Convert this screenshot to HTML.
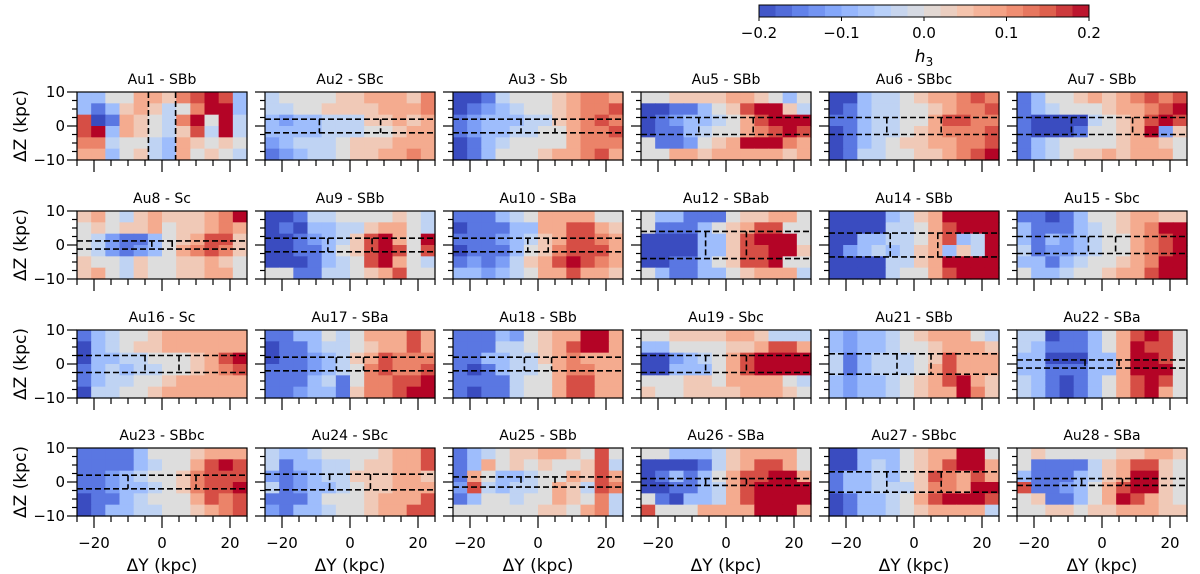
<!DOCTYPE html>
<html><head><meta charset="utf-8"><style>
html,body{margin:0;padding:0;background:#fff;}
svg{display:block;font-family:"DejaVu Sans","Liberation Sans",sans-serif;}
</style></head><body>
<svg id="fig" width="1200" height="574" viewBox="0 0 1200 574" xmlns="http://www.w3.org/2000/svg"></svg>
<script>
// ---- data ----
const panelNames = ["Au1 - SBb","Au2 - SBc","Au3 - Sb","Au5 - SBb","Au6 - SBbc","Au7 - SBb",
"Au8 - Sc","Au9 - SBb","Au10 - SBa","Au12 - SBab","Au14 - SBb","Au15 - Sbc",
"Au16 - Sc","Au17 - SBa","Au18 - SBb","Au19 - Sbc","Au21 - SBb","Au22 - SBa",
"Au23 - SBbc","Au24 - SBc","Au25 - SBb","Au26 - SBa","Au27 - SBbc","Au28 - SBa"];
// box half-height in z (kpc)
const boxZ = [10,2,2,2.5,2.5,2.5, 1.2,2,2,4,3.5,2.5, 2.5,2,2,2.5,3,1.2, 2,2.3,1.5,1,3,1];
// bar half-length in y (kpc)
const boxY = [4,9,5,8,8,9, 3,6.5,3,6,7,4, 5,4,4,6,5,5, 10,6,5,6,8,6];
// h3 grid codes: a=-0.2 ... f=0 ... k=+0.2 ; 6 rows (z top->bottom) x 12 cols (y left->right)
const grids = [
["ddffhhgijkjd","dbdghgefikkd","jabhgfeikfke","jkdhgfegjeke","iieffedhgfgf","hhdfgedhfgfe"],
["effffgghhhgi","eeffgggghhhi","dcddeeegghgh","ddddeeeffghh","cdeeefggghhh","bcdeefgghhih"],
["aabefffghiih","abcdeffghiij","bcdddeeghiji","bcddeeffhiij","abdeffffhiii","abdfffghhijh"],
["ffgggghhgfdf","aabbdfgjkkge","abcddefhjkkk","abbdeffhijkj","fbbcfghkkkih","ffhhghhhhhgh"],
["aadeefghhiji","abdeeffghiij","bbdeeffhjjii","abdeefghiiij","abdefgghhiij","abeeffgghijk"],
["bdffghghijij","bdefffghhijk","baaaaefghjkj","baaabffghkcg","bdeffffghhgf","bdefgghghhhf"],
["ghfeghggghik","fgfgghfgghih","fecbbdfghjjg","fecbcdfhijig","gffegffgghgf","ghfegffgghhf"],
["aabeeffffgfe","abaddeeghhfe","aabcdegjkhfk","aabbdfgjkjfj","aaabdefjkhfe","ffbbeefghjff"],
["bbbdefhhhhff","abbbddhhjjhg","bbbcdeghjjih","abbbdfgijjjh","bcbceghjkjih","ddcdefhhjhhg"],
["fddbbbfgghhf","fbbbdfghjjff","aaaaddgjkkkf","aaaaddgjjkkg","aabbdfgjjkff","fdbbddfghhhe"],
["aaaadeghkkkk","aaaaeefhjkkk","aaddeefhjdek","acdedeghdgek","aaaaeeghkkkk","aaaaeffhjkkk"],
["bbabdffghhgg","dbbbdefghikk","dbdcdeffhijk","ebccdeffhijk","ddbdeffghikk","fddeffghhjkk"],
["bdeffghhhhhh","adefgghhhhhh","addeefffghjk","bdedeeffghij","bdeeffghhhhh","aeeffghhhhhh"],
["bbddfefhhhjh","abbdeefghhjh","abbcdeghjiii","bbbcdefijiij","bbbdebfiijjk","bbcddbgiijkk"],
["bbbdcfghhkkh","bbbeefghjkkh","bbddeeghihhh","babdeefhiihh","bbbbeffhjjhh","babbeffhjjhh"],
["ffgggghhgeee","ddffffgghjjh","aacdefhjkkkk","aadddfhjkkkk","fffggfhhhhfe","gffgggghhhgf"],
["dcddefghhhfe","dcddeffghhhg","ebdeeefgjhhh","ebdeeefhjhhh","dcddefghjkhg","dcddefghhkig"],
["eeabbdfhjkjf","edbbbdfhkjjf","ddaaaddhkkjf","ddbbbddhkkkf","edbabdfhjkjf","edbabdfhjkhf"],
["bbbbdfffghhh","bbbbdeffhjkj","bbcdeffgijjj","bbcddefgijjk","abbdefffhjij","abddeeffghij"],
["eddeffffghhj","ebddeefgghhj","cbcdeeggghhg","ebcddefgghhh","bbbdfffghhhj","cbddeffghhjj"],
["bdefgghhgfjf","bdhfgfgffgje","bhfddeffhgjh","cjedeefhgeji","bdffeffhgfie","ffffffggfhie"],
["ffdddeghhhhf","aaaabeghjjhf","abdbdfhjjkkh","aabbdehjkkkk","fbaddehjkkkk","jfffhhhhkkkh"],
["aadddfghhkkf","aadedfghjkkh","bddedfgjihjh","bddeeegiihkk","abddefhjkkkj","abddefghhhhe"],
["fgfffffgghhg","fbbbbeghjjgf","dbbbdeghkkgf","jbbcdfhjkkgf","fgbbdfhkjhgf","ffggfgghhhgg"]
];
const cbarTicks = [-0.2,-0.1,0.0,0.1,0.2];
const xTickLabels = [-20,0,20];
const yTickLabels = [10,0,-10];

// ---- layout ----
const NS="http://www.w3.org/2000/svg";
const svg=document.getElementById('fig');
const colX=[77,265,453,641,829,1017], rowY=[92,211,330,448], PW=170, PH=68;
const ck=[[58,76,192],[98,130,234],[141,176,254],[184,208,249],[221,221,221],[245,196,173],[244,154,123],[222,96,77],[180,4,38]];
function cmap(t){t=Math.max(0,Math.min(1,t));const s=t*8,i=Math.min(7,Math.floor(s)),f=s-i;
 const c=ck[i].map((v,k)=>Math.round(v+(ck[i+1][k]-v)*f));return `rgb(${c[0]},${c[1]},${c[2]})`;}
function valColor(v){return cmap((v+0.2)/0.4);}
function mk(tag,attrs,parent){const e=document.createElementNS(NS,tag);for(const k in attrs)e.setAttribute(k,attrs[k]);(parent||svg).appendChild(e);return e;}

// colorbar
const cbX0=759,cbX1=1089,cbY=5,cbH=12;
const cbScale=v=>cbX0+(v+0.2)/0.4*(cbX1-cbX0);
const cbg=mk('g',{});


for(let i=0;i<20;i++){const v0=-0.2+i*0.02;
 const r=mk('rect',{x:cbScale(v0),y:cbY,width:cbScale(v0+0.02)-cbScale(v0)+0.5,height:cbH,fill:valColor(v0+0.01)},cbg);
 
 }
mk('rect',{x:cbX0,y:cbY,width:cbX1-cbX0,height:cbH,fill:'none',stroke:'#000','stroke-width':1},cbg);
cbarTicks.forEach(v=>{const x=cbScale(v);
 mk('line',{x1:x,x2:x,y1:cbY+cbH,y2:cbY+cbH+4,stroke:'#000'},cbg);
 const t=mk('text',{x:x,y:38,'font-size':15,'text-anchor':'middle'},cbg);
 t.textContent=(v<0?'\u2212':'')+Math.abs(v).toFixed(1);
 
 });
const h3=mk('text',{x:924,y:62,'font-size':17,'text-anchor':'middle','font-style':'italic'},cbg);
h3.innerHTML='h<tspan font-size="12" dy="4" font-style="normal">3</tspan>';



// panels
panelNames.forEach((name,p)=>{
 const r=Math.floor(p/6),c=p%6,x0=colX[c],y0=rowY[r];
 const sx=v=>x0+(v+25)/50*PW, sy=v=>y0+(10-v)/20*PH;
 const g=mk('g',{});
 
 
 const grid=grids[p],nr=grid.length,nc=grid[0].length;
 for(let i=0;i<nr;i++)for(let j=0;j<nc;j++){
  const v=(grid[i].charCodeAt(j)-102)*0.04;
  const ya=10-i*20/nr, yb=10-(i+1)*20/nr, xa=-25+j*50/nc, xb=-25+(j+1)*50/nc;
  const cell=mk('rect',{x:sx(xa),y:sy(ya),width:sx(xb)-sx(xa)+0.6,height:sy(yb)-sy(ya)+0.6,fill:valColor(v)},g);
  
  
 }
 // box
 const zh=boxZ[p],xb=boxY[p],ds={stroke:'#000','stroke-width':1.6,'stroke-dasharray':'6,3',fill:'none'};
 if(zh<10){
  mk('line',Object.assign({x1:x0,x2:x0+PW,y1:sy(zh),y2:sy(zh)},ds),g);
  mk('line',Object.assign({x1:x0,x2:x0+PW,y1:sy(-zh),y2:sy(-zh)},ds),g);
 }
 [-xb,xb].forEach(xv=>mk('line',Object.assign({x1:sx(xv),x2:sx(xv),y1:sy(zh),y2:sy(-zh)},ds),g));
 mk('rect',{x:x0,y:y0,width:PW,height:PH,fill:'none',stroke:'#000','stroke-width':1.2},g);
 // ticks
 for(let v=-25;v<=25;v+=5){const maj=(v%20===0);
  mk('line',{x1:sx(v),x2:sx(v),y1:y0+PH,y2:y0+PH+(maj?12:6),stroke:'#000','stroke-width':1.2},g);}
 for(let v=-10;v<=10;v+=2.5){const maj=(v%10===0);
  mk('line',{x1:x0,x2:x0-(maj?10:5),y1:sy(v),y2:sy(v),stroke:'#000','stroke-width':1.2},g);}
 const tt=mk('text',{x:x0+PW/2,y:y0-8,'font-size':14,'text-anchor':'middle'},g);
 tt.textContent=name;
 
 
 if(c===0){
  yTickLabels.forEach(v=>{const t=mk('text',{x:x0-12,y:sy(v)+5,'font-size':15,'text-anchor':'end'},g);
   t.textContent=(v<0?'\u2212':'')+Math.abs(v);
   
   });
  const yl=mk('text',{x:0,y:0,'font-size':17,'text-anchor':'middle',transform:`translate(26,${y0+PH/2}) rotate(-90)`},g);
  yl.textContent='\u0394Z (kpc)';
  
  
 }
 if(r===3){
  xTickLabels.forEach(v=>{const t=mk('text',{x:sx(v),y:548,'font-size':15,'text-anchor':'middle'},g);
   t.textContent=(v<0?'\u2212':'')+Math.abs(v);
   
   });
  const xl=mk('text',{x:x0+PW/2,y:571,'font-size':17,'text-anchor':'middle'},g);
  xl.textContent='\u0394Y (kpc)';
  
  
 }
});
</script>
</body></html>
